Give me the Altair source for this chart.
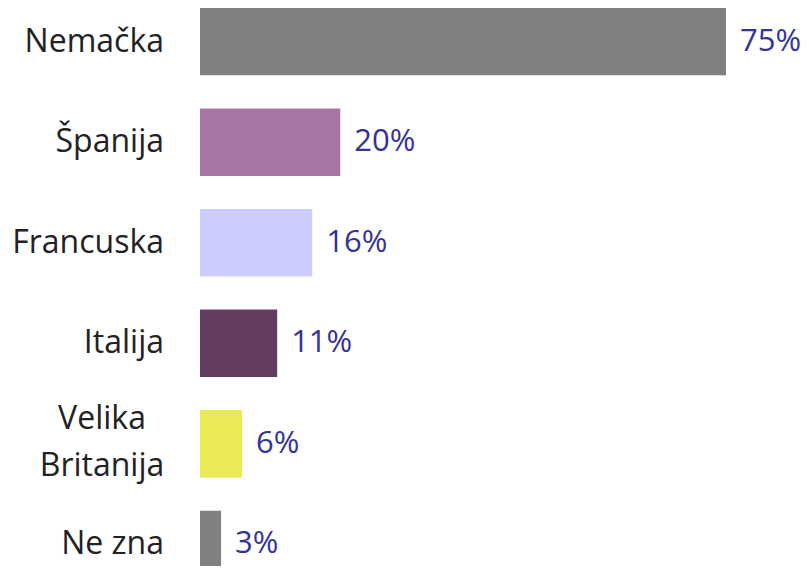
import altair as alt
import pandas as pd

categories = ["Nemačka", "Španija", "Francuska", "Italija", "Velika Britanija", "Ne zna"]
values = [75, 20, 16, 11, 6, 3]
labels = ["75%", "20%", "16%", "11%", "6%", "3%"]
colors = ["#808080", "#A874A3", "#CCCCFF", "#633D5F", "#EAEA55", "#808080"]

df = pd.DataFrame({"cat": categories, "val": values, "lab": labels})

FONT = "Open Sans"

y = alt.Y(
    "cat:N",
    sort=categories,
    scale=alt.Scale(range=[0, 570], paddingInner=0.33, paddingOuter=0),
    axis=None,
)
x = alt.X("val:Q", scale=alt.Scale(domain=[0, 75], nice=False), axis=None)

base = alt.Chart(df)
bars = base.mark_bar().encode(
    x=x, y=y,
    color=alt.Color("cat:N", scale=alt.Scale(domain=categories, range=colors), legend=None),
)
values_text = base.mark_text(
    align="left", baseline="middle", dx=14, font=FONT, fontSize=31, color="#333399"
).encode(x=x, y=y, text="lab:N")

cat_single = base.transform_filter(
    "indexof(datum.cat, ' ') < 0 || datum.cat == 'Ne zna'"
).mark_text(
    align="right", baseline="middle", font=FONT, fontSize=32, color="#222222"
).encode(x=alt.value(-36), y=y, text="cat:N")

cat_multi = base.transform_filter(
    "datum.cat == 'Velika Britanija'"
).transform_calculate(
    disp="replace(datum.cat, ' ', '\\n')"
).mark_text(
    align="center", baseline="middle", font=FONT, fontSize=32, color="#222222",
    lineBreak="\n", lineHeight=47, dy=-25,
).encode(x=alt.value(-98), y=y, text="disp:N")

chart = (bars + values_text + cat_single + cat_multi).properties(
    width=526, height=558,
    autosize=alt.AutoSizeParams(type="none"),
    padding={"left": 192, "top": 0, "right": 75, "bottom": 0},
).configure_view(stroke=None)

chart.save("out.html", embed_options={"renderer": "svg", "actions": False})
